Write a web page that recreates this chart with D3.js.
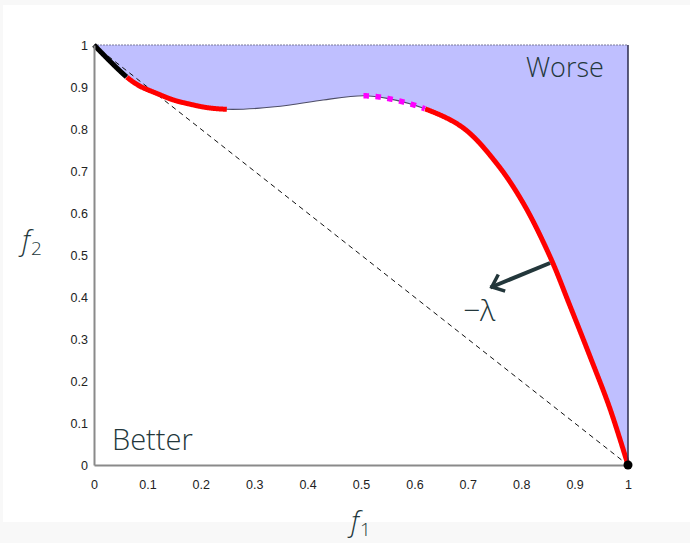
<!DOCTYPE html>
<html>
<head>
<meta charset="utf-8">
<script src="https://cdn.jsdelivr.net/npm/d3@7"></script>
<style>
  body { margin: 0; background: #f8f8f8; }
  svg { display: block; }
</style>
</head>
<body>
<svg id="chart"></svg>
<script>
// pareto front samples (f1, f2)
const f1 = [0, 0.061, 0.086, 0.117, 0.149, 0.180, 0.211, 0.249, 0.305, 0.367, 0.429, 0.504, 0.549, 0.620, 0.692, 0.754, 0.804, 0.854, 0.891, 0.929, 0.966, 1];
const f2 = [1, 0.924, 0.902, 0.885, 0.869, 0.859, 0.851, 0.847, 0.849, 0.857, 0.869, 0.879, 0.873, 0.848, 0.802, 0.718, 0.623, 0.496, 0.380, 0.258, 0.135, 0];

// pieces of the front: name + index of last point
const segmentNames = ["start", "convex1", "gap", "dotted", "convex2"];
const segmentEnds = [1, 7, 11, 13, 21];

const xTicks = [0, 0.1, 0.2, 0.3, 0.4, 0.5, 0.6, 0.7, 0.8, 0.9, 1];
const yTicks = [0, 0.1, 0.2, 0.3, 0.4, 0.5, 0.6, 0.7, 0.8, 0.9, 1];

// arrow (-lambda direction), start and tip in data coords
const arrowFrom = [0.854, 0.481];
const arrowTo = [0.745, 0.424];

const W = 690, H = 543;
const ink = "#23373b";

const svg = d3.select("#chart").attr("width", W).attr("height", H);

// white slide panel
svg.append("rect").attr("x", 3).attr("y", 5).attr("width", W - 3).attr("height", 517).attr("fill", "white");

const x = d3.scaleLinear().domain([0, 1]).range([94, 628]);
const y = d3.scaleLinear().domain([0, 1]).range([465, 45]);

const pts = f1.map((d, i) => [d, f2[i]]);

const line = d3.line()
  .x(d => x(d[0]))
  .y(d => y(d[1]))
  .curve(d3.curveCatmullRom.alpha(0.5));

// dominated region (worse side)
const area = d3.area()
  .x(d => x(d[0]))
  .y0(y(1))
  .y1(d => y(d[1]))
  .curve(d3.curveCatmullRom.alpha(0.5));

svg.append("path").datum(pts)
  .attr("d", area)
  .attr("fill", "#bfbfff");

// top edge of the region
svg.append("line")
  .attr("x1", x(0)).attr("x2", x(1)).attr("y1", y(1)).attr("y2", y(1))
  .attr("stroke", "#7a7a99").attr("stroke-width", 1.2).attr("stroke-dasharray", "2 1");

// dashed diagonal
svg.append("line")
  .attr("x1", x(0)).attr("y1", y(1)).attr("x2", x(1)).attr("y2", y(0))
  .attr("stroke", "#111").attr("stroke-width", 1).attr("stroke-dasharray", "5 4");

// thin front underneath
const front = svg.append("path").datum(pts)
  .attr("d", line)
  .attr("fill", "none")
  .attr("stroke", "#4d4d66")
  .attr("stroke-width", 1.1);

// sample the smooth curve so pieces can be cut out by f1 range
const node = front.node();
const total = node.getTotalLength();
const samples = d3.range(0, total, 0.5).concat([total]).map(l => {
  const p = node.getPointAtLength(l);
  return [p.x, p.y];
});

const segStyle = {
  start:   {stroke: "black",   width: 5, dash: null},
  convex1: {stroke: "#ff0000", width: 5, dash: null},
  gap:     null,
  dotted:  {stroke: "#ff00ff", width: 5.5, dash: "5.5 6.5"},
  convex2: {stroke: "#ff0000", width: 5, dash: null}
};

segmentNames.forEach((name, k) => {
  const st = segStyle[name];
  if (!st) return;
  const a = k === 0 ? 0 : segmentEnds[k - 1];
  const b = segmentEnds[k];
  const lo = x(f1[a]) - 0.01, hi = x(f1[b]) + 0.01;
  const piece = samples.filter(p => p[0] >= lo && p[0] <= hi);
  svg.append("path")
    .attr("d", d3.line()(piece))
    .attr("fill", "none")
    .attr("stroke", st.stroke)
    .attr("stroke-width", st.width)
    .attr("stroke-dasharray", st.dash);
});

// axes
const xAxis = svg.append("g")
  .attr("transform", "translate(0," + y(0) + ")")
  .call(d3.axisBottom(x).tickValues(xTicks).tickSize(0).tickPadding(15)
    .tickFormat(d => String(+d.toFixed(1))));
const yAxis = svg.append("g")
  .attr("transform", "translate(" + x(0) + ",0)")
  .call(d3.axisLeft(y).tickValues(yTicks).tickSize(0).tickPadding(6)
    .tickFormat(d => String(+d.toFixed(1))));

[xAxis, yAxis].forEach(g => {
  g.select(".domain").attr("stroke", "#8a8a8a").attr("stroke-width", 2);
  g.selectAll(".tick text")
    .attr("font-family", "Liberation Sans, Arial, sans-serif")
    .attr("font-size", 12.5)
    .attr("fill", "#222");
});

// right edge of the region, above the bottom axis
svg.append("line")
  .attr("x1", x(1)).attr("x2", x(1)).attr("y1", y(1)).attr("y2", y(0) - 1)
  .attr("stroke", "#2b2b4d").attr("stroke-width", 1.5);

// end point
svg.append("circle").attr("cx", x(1)).attr("cy", y(0)).attr("r", 4.5).attr("fill", "black");

// arrow
const ax0 = x(arrowFrom[0]), ay0 = y(arrowFrom[1]);
const ax1 = x(arrowTo[0]), ay1 = y(arrowTo[1]);
const ang = Math.atan2(ay1 - ay0, ax1 - ax0);
const headLen = 14, headAng = 0.7;
svg.append("line")
  .attr("x1", ax0).attr("y1", ay0).attr("x2", ax1 + 1.5 * Math.cos(ang)).attr("y2", ay1 + 1.5 * Math.sin(ang))
  .attr("stroke", ink).attr("stroke-width", 4);
svg.append("path")
  .attr("d", d3.line()([
    [ax1 - headLen * Math.cos(ang - headAng), ay1 - headLen * Math.sin(ang - headAng)],
    [ax1, ay1],
    [ax1 - headLen * Math.cos(ang + headAng), ay1 - headLen * Math.sin(ang + headAng)]
  ]))
  .attr("fill", "none").attr("stroke", ink).attr("stroke-width", 3.5)
  .attr("stroke-linejoin", "miter");

const textFont = "'Open Sans', sans-serif";

svg.append("text")
  .attr("x", 463).attr("y", 321)
  .attr("font-family", textFont).attr("font-weight", 300).attr("font-size", 30)
  .attr("fill", ink)
  .text("\u2212\u03bb");

svg.append("text")
  .attr("x", 526).attr("y", 77)
  .attr("font-family", textFont).attr("font-weight", 300).attr("font-size", 27)
  .attr("fill", ink)
  .text("Worse");

svg.append("text")
  .attr("x", 112).attr("y", 450)
  .attr("font-family", textFont).attr("font-weight", 300).attr("font-size", 29)
  .attr("fill", ink)
  .text("Better");

// axis titles: italic f with subscript
function axisTitle(px, py, sub) {
  const t = svg.append("text")
    .attr("x", px).attr("y", py)
    .attr("font-family", textFont).attr("font-weight", 300).attr("font-size", 28)
    .attr("fill", ink);
  t.append("tspan").attr("font-style", "italic").text("f");
  t.append("tspan").attr("font-size", 19).attr("dy", 5).attr("dx", 1).text(sub);
}
axisTitle(22, 250, "2");
axisTitle(351, 531, "1");
</script>
</body>
</html>
